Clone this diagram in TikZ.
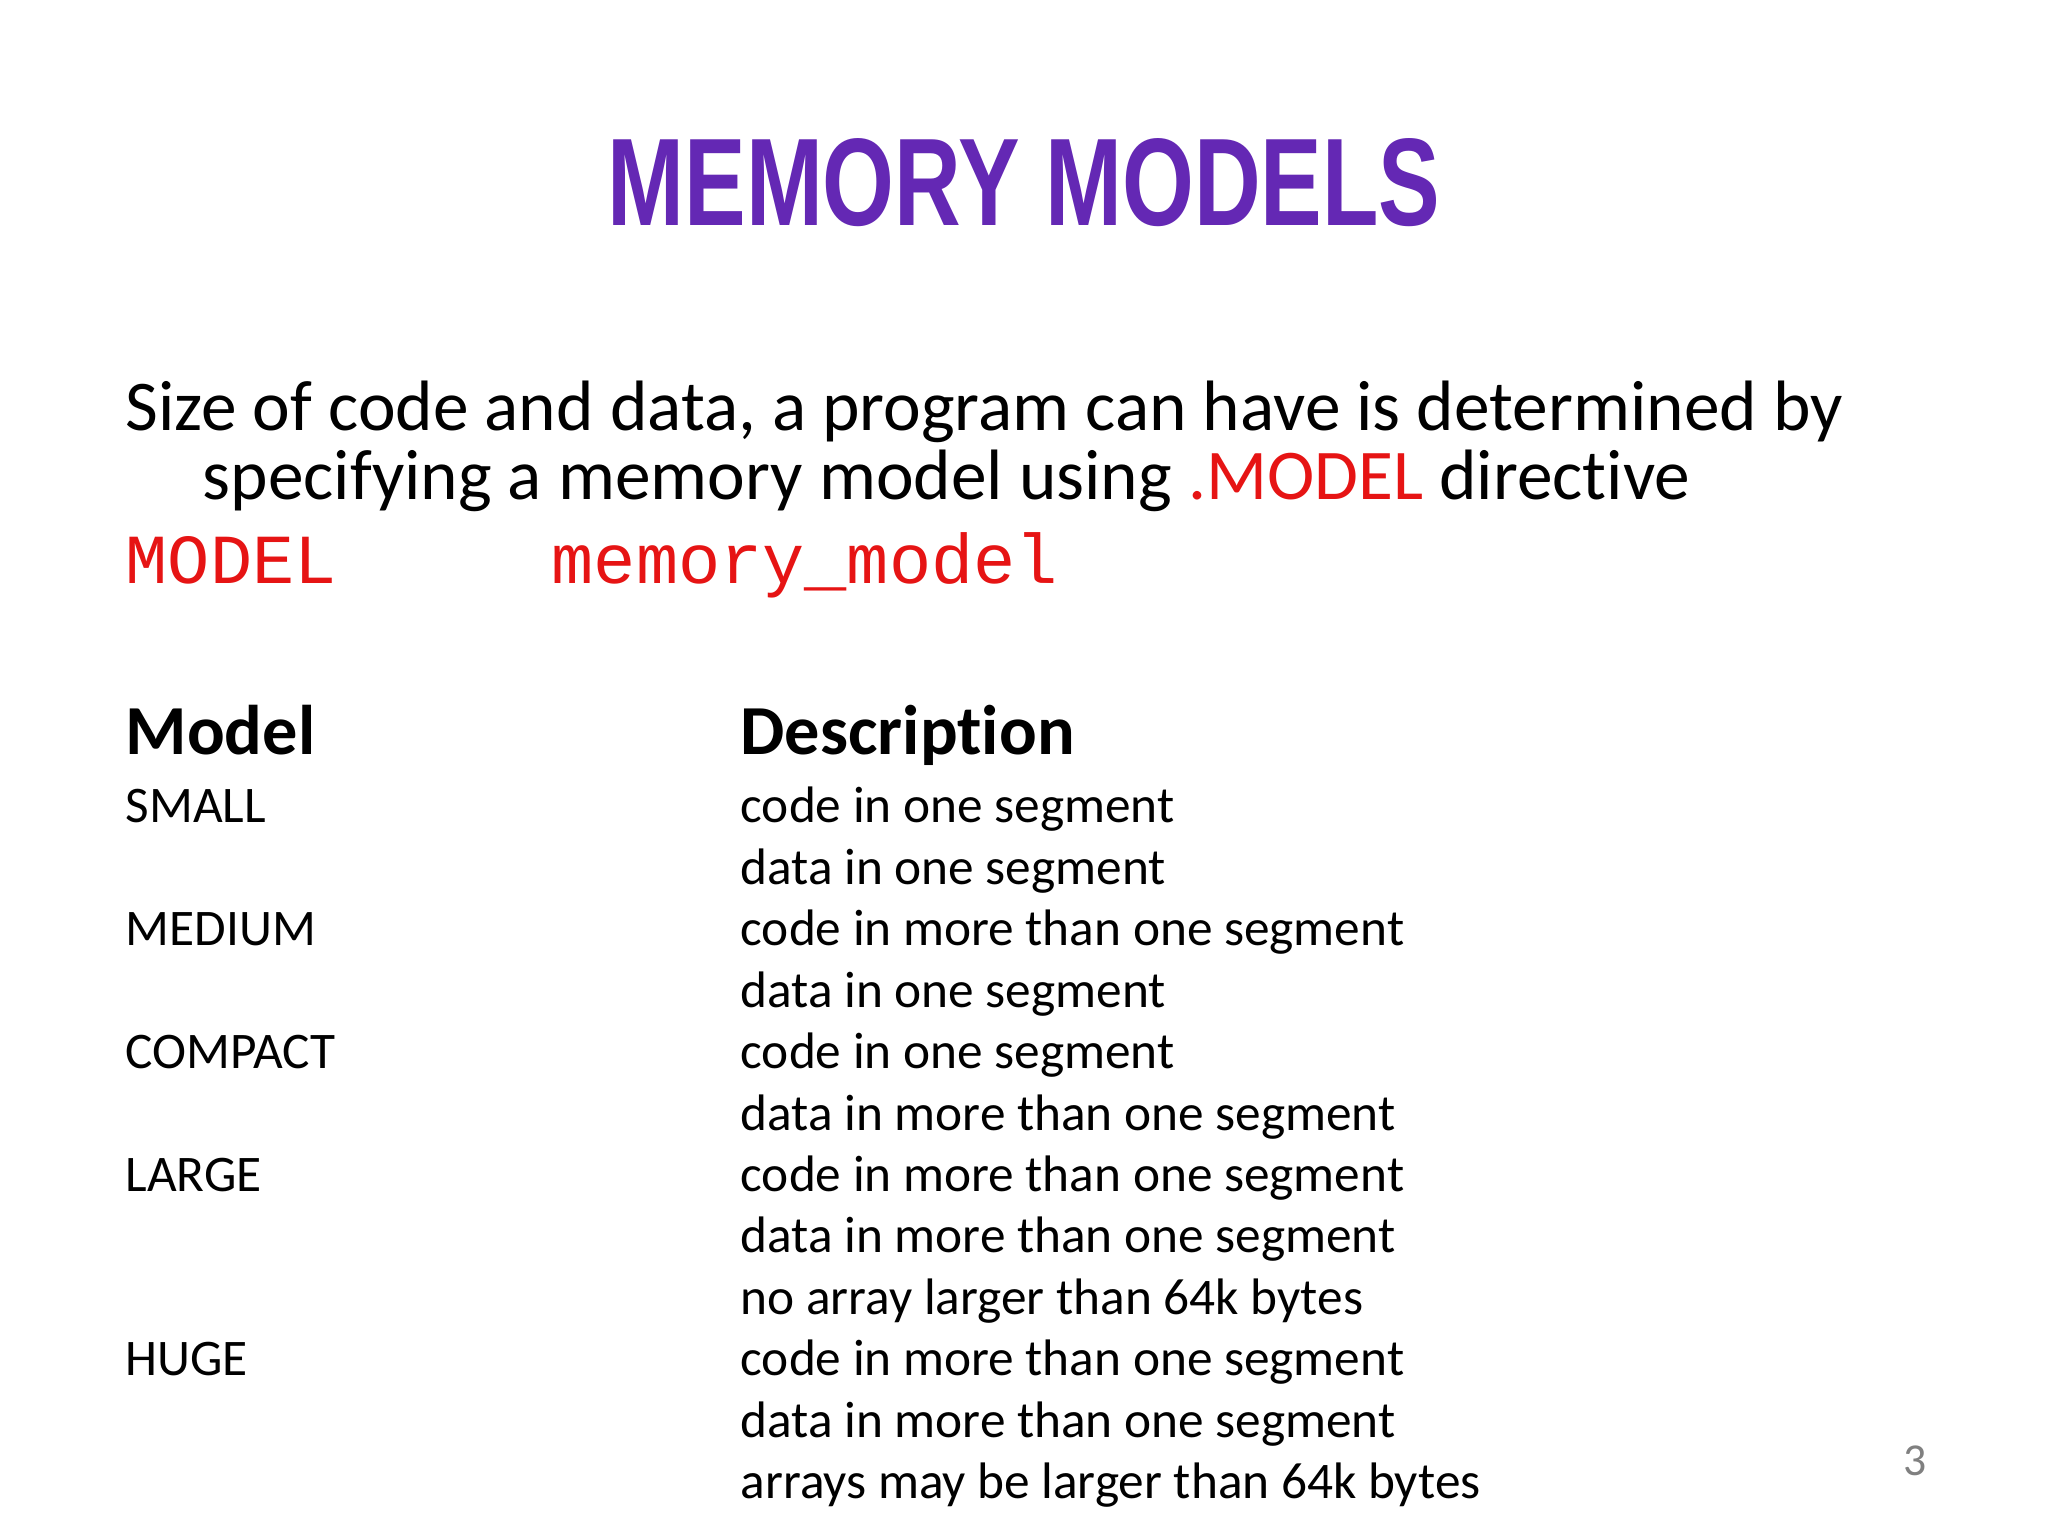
\documentclass[tikz,border=0pt]{standalone}
\usepackage{fontspec}
\setmainfont[Ligatures={NoCommon,NoContextual}]{Carlito}
\newfontfamily\monof{Liberation Mono}
\newfontfamily\titlef{Liberation Sans}
\definecolor{ttl}{RGB}{100,40,180}
\definecolor{redt}{RGB}{230,20,20}
\tikzset{txt/.style={anchor=base west,inner sep=0pt,font=\fontsize{14.6}{18}\selectfont},
 body/.style={anchor=base west,inner sep=0pt,font=\fontsize{20.3}{26}\selectfont},
 hdr/.style={anchor=base west,inner sep=0pt,font=\fontsize{20}{24}\selectfont\bfseries}}
\begin{document}
\begin{tikzpicture}
\useasboundingbox[fill=white] (0,0) rectangle (20.48,-15.36);
\node[inner sep=0pt,text=ttl] (title) at (10.24,-1.83) {\resizebox{8.33cm}{0.87cm}{\titlef\bfseries\fontsize{34}{40}\selectfont MEMORY MODELS}};
\node[body] (l1) at (1.25,-4.31) {Size of code and data, a program can have is determined by};
\node[body] (l2) at (2.02,-5.00) {specifying a memory model using \textcolor{redt}{.MODEL} directive};
\node[anchor=base west,inner sep=0pt,text=redt,font=\monof\fontsize{20}{24}\selectfont] (m1) at (1.25,-5.84) {MODEL};
\node[anchor=base west,inner sep=0pt,text=redt,font=\monof\fontsize{20}{24}\selectfont] (m2) at (5.51,-5.84) {memory\_model};
\node[hdr] (h1) at (1.25,-7.55) {Model};
\node[hdr] (h2) at (7.40,-7.55) {Description};
\foreach \n/\t/\y in {a/SMALL/0,b/MEDIUM/2,c/COMPACT/4,d/LARGE/6,e/HUGE/9}
  \node[txt] (mod\n) at (1.25,-8.23-0.614*\y) {\t};
\foreach \t [count=\i from 0] in {code in one segment,data in one segment,code in more than one segment,data in one segment,code in one segment,data in more than one segment,code in more than one segment,data in more than one segment,no array larger than 64k bytes,code in more than one segment,data in more than one segment,arrays may be larger than 64k bytes}
  \node[txt] (d\i) at (7.40,-8.23-0.614*\i) {\t};
\node[anchor=base,inner sep=0pt,text=gray,font=\fontsize{13}{15}\selectfont] (pg) at (19.15,-14.75) {3};
\end{tikzpicture}
\end{document}
